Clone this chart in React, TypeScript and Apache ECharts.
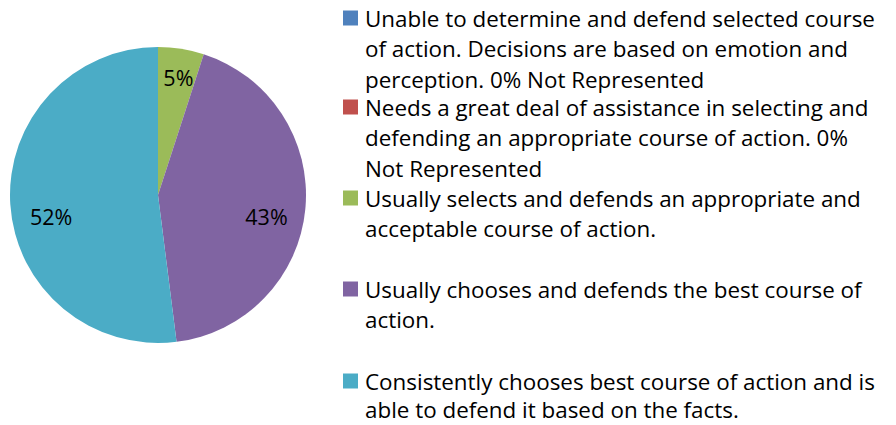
import React, { useEffect, useRef } from "react";
import * as echarts from "echarts";

const categories = [
  "Unable to determine and defend selected course\nof action. Decisions are based on emotion and\nperception. 0% Not Represented",
  "Needs a great deal of assistance in selecting and\ndefending an appropriate course of action. 0%\nNot Represented",
  "Usually selects and defends an appropriate and\nacceptable course of action.",
  "Usually chooses and defends the best course of\naction.",
  "Consistently chooses best course of action and is\nable to defend it based on the facts.",
];
const values = [0, 0, 5, 43, 52];
const colors = ["#4F81BD", "#C0504D", "#9BBB59", "#8064A2", "#4BACC6"];
const legendIconY = [18, 107, 198, 289, 381];
const legendLineHeights = [30.5, 30.5, 30.5, 30.5, 28.8];
const labelOffsets: [number, number][] = [[0, 0], [0, 0], [3, -8], [-2, 11], [4, 15]];

const FONT = "Open Sans";
const FS = 22.4;

export default function App() {
  const ref = useRef<HTMLDivElement>(null);
  useEffect(() => {
    document.body.style.margin = "0";
    const chart = echarts.init(ref.current!, null, { renderer: "svg" });
    const data = categories.map((name, i) => ({ name, value: values[i], itemStyle: { color: colors[i] } }));
    const legends = categories.map((name, i) => {
      const n = name.split("\n").length;
      const lh = legendLineHeights[i];
      return {
        show: true,
        data: [name],
        left: 343,
        top: legendIconY[i] - ((2 * n - 1) * lh) / 2,
        orient: "vertical",
        icon: "rect",
        itemWidth: 15,
        itemHeight: 15,
        padding: 0,
        selectedMode: false,
        formatter: (nm: string) => "\n".repeat(n - 1) + nm,
        textStyle: {
          fontFamily: FONT,
          fontSize: FS,
          lineHeight: lh,
          color: "#000",
          padding: [0, 0, 0, 2],
        },
      };
    });
    chart.setOption({
      animation: false,
      backgroundColor: "#fff",
      legend: legends,
      series: [
        {
          type: "pie",
          center: [158, 195],
          radius: [0, 148],
          startAngle: 90,
          clockwise: true,
          data,
          label: { show: false },
          labelLine: { show: false },
          silent: true,
        },
        {
          type: "pie",
          center: [158, 195],
          radius: [68, 148],
          startAngle: 90,
          clockwise: true,
          data: categories.map((name, i) => ({
            name,
            value: values[i],
            label: { offset: labelOffsets[i] },
          })),
          itemStyle: { color: "transparent" },
          label: {
            show: true,
            position: "inside",
            formatter: (p: any) => (p.value > 0 ? p.value + "%" : ""),
            fontFamily: FONT,
            fontSize: 21.5,
            color: "#000",
          },
          labelLine: { show: false },
          silent: true,
        },
      ],
    });
    return () => chart.dispose();
  }, []);
  return <div ref={ref} style={{ width: 896, height: 425 }} />;
}
